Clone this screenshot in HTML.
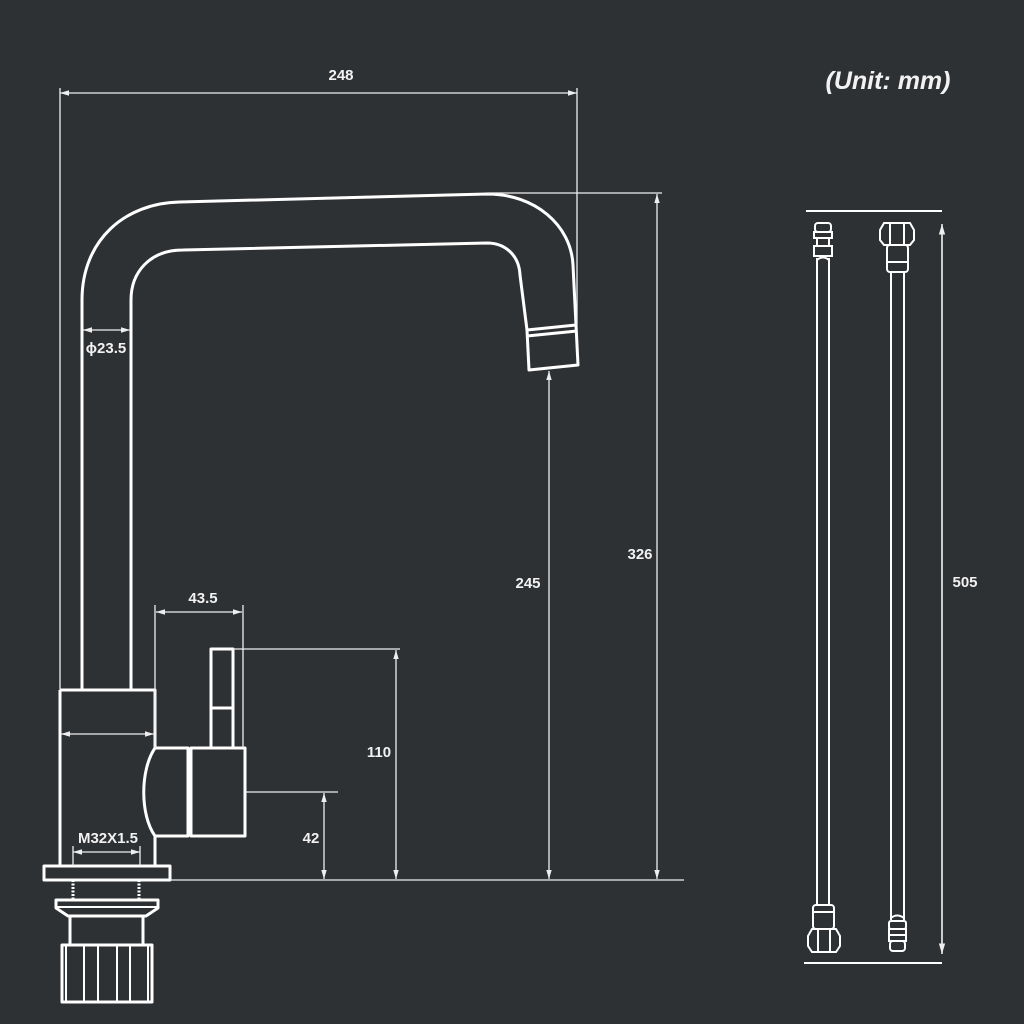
<!DOCTYPE html>
<html><head><meta charset="utf-8"><style>
html,body{margin:0;padding:0;background:#2e3134;}
svg{display:block}
text{font-family:"Liberation Sans",sans-serif;font-weight:bold;fill:#f2f2f2;font-size:15px}
</style></head><body>
<svg width="1024" height="1024" viewBox="0 0 1024 1024">
<defs>
<marker id="a" viewBox="0 0 10 10" refX="10" refY="5" markerWidth="7" markerHeight="7" orient="auto-start-reverse"><path d="M0,2 L10,5 L0,8 z" fill="#eee"/></marker>
</defs>
<rect width="1024" height="1024" fill="#2e3134"/>
<g fill="none" stroke="#fff" stroke-width="3" stroke-linejoin="round">
<path d="M82,690 L82,300 C82,240 125,203 180,202 L487,194 C535,194 571,225 573,265 L576,325"/>
<path d="M131,690 L131,300 C131,272 150,250 183,250 L487,243 C505,243 519,255 520,275 L527,330"/>
<path d="M527,330 L576,325 L578,365 L529,370 Z"/>
<path d="M527,336 L577,331"/>
<path d="M60,690 L155,690 L155,748 M60,690 L60,866 M155,835 L155,866"/>
<path d="M155,748 L188,748 L188,836 L155,836 C140,815 140,770 155,748"/>
<rect x="191" y="748" width="54" height="88"/>
<rect x="211" y="649" width="22" height="99"/>
<line x1="211" y1="708" x2="233" y2="708"/>
<rect x="44" y="866" width="126" height="14"/>
<path d="M56,900 L158,900 L158,908 L146,916 L68,916 L56,908 Z"/>
<line x1="57" y1="907" x2="157" y2="907" stroke-width="2"/>
<rect x="70" y="916" width="73" height="29"/>
<rect x="62" y="945" width="90" height="57"/>
<path d="M66,946V1001M84,946V1001M98,946V1001M117,946V1001M130,946V1001M148,946V1001" stroke-width="2"/>
<path d="M73,880V900M139,880V900" stroke-width="3" stroke-dasharray="2 1.5"/>
</g>
<g fill="none" stroke="#eee" stroke-width="1.3">
<line x1="60" y1="88" x2="60" y2="690"/>
<line x1="577" y1="88" x2="577" y2="325"/>
<line x1="60" y1="93" x2="577" y2="93" marker-start="url(#a)" marker-end="url(#a)"/>
<line x1="83" y1="330" x2="130" y2="330" marker-start="url(#a)" marker-end="url(#a)"/>
<line x1="487" y1="193" x2="662" y2="193"/>
<line x1="657" y1="194" x2="657" y2="879" marker-start="url(#a)" marker-end="url(#a)"/>
<line x1="549" y1="371" x2="549" y2="879" marker-start="url(#a)" marker-end="url(#a)"/>
<line x1="233" y1="649" x2="400" y2="649"/>
<line x1="396" y1="650" x2="396" y2="879" marker-start="url(#a)" marker-end="url(#a)"/>
<line x1="245" y1="792" x2="338" y2="792"/>
<line x1="324" y1="793" x2="324" y2="879" marker-start="url(#a)" marker-end="url(#a)"/>
<line x1="170" y1="880" x2="684" y2="880"/>
<line x1="155" y1="605" x2="155" y2="748"/>
<line x1="243" y1="605" x2="243" y2="748"/>
<line x1="156" y1="612" x2="242" y2="612" marker-start="url(#a)" marker-end="url(#a)"/>
<line x1="61" y1="734" x2="154" y2="734" marker-start="url(#a)" marker-end="url(#a)"/>
<line x1="73" y1="852" x2="140" y2="852" marker-start="url(#a)" marker-end="url(#a)"/>
<line x1="73" y1="846" x2="73" y2="866"/><line x1="140" y1="846" x2="140" y2="866"/>
</g>
<text x="341" y="80" text-anchor="middle">248</text>
<text x="106" y="353" text-anchor="middle">ϕ23.5</text>
<text x="640" y="559" text-anchor="middle">326</text>
<text x="528" y="588" text-anchor="middle">245</text>
<text x="379" y="757" text-anchor="middle">110</text>
<text x="311" y="843" text-anchor="middle">42</text>
<text x="203" y="603" text-anchor="middle">43.5</text>
<text x="108" y="843" text-anchor="middle">M32X1.5</text>
<text x="888" y="89" text-anchor="middle" style="font-size:25px;font-style:italic">(Unit: mm)</text>
<text x="965" y="587" text-anchor="middle">505</text>
<g fill="none" stroke="#fff" stroke-width="2">
<line x1="806" y1="211" x2="942" y2="211"/>
<line x1="804" y1="963" x2="942" y2="963"/>
<line x1="942" y1="224" x2="942" y2="954" stroke-width="1.5" marker-start="url(#a)" marker-end="url(#a)"/>
<path d="M817,258V905M829,258V905"/>
<path d="M817,260 Q823,255 829,260"/>
<rect x="815" y="223" width="16" height="9" rx="3"/>
<rect x="814" y="232" width="18" height="6"/>
<rect x="814" y="246" width="18" height="10"/>
<path d="M817,238V246M829,238V246"/>
<rect x="813" y="905" width="21" height="24" rx="3"/>
<line x1="813" y1="912" x2="834" y2="912"/>
<path d="M812,929 L836,929 L840,936 L840,946 L836,952 L812,952 L808,946 L808,936 Z"/>
<path d="M818,930V951M830,930V951"/>
<path d="M891,272V920M904,272V920"/>
<path d="M891,918 Q897,913 904,918"/>
<path d="M884,223 L910,223 L914,230 L914,240 L910,245 L884,245 L880,240 L880,230 Z"/>
<path d="M890,224V244M904,224V244"/>
<rect x="887" y="245" width="21" height="27" rx="3"/>
<line x1="887" y1="262" x2="908" y2="262"/>
<rect x="889" y="921" width="17" height="8" rx="2"/>
<rect x="889" y="929" width="17" height="6"/>
<rect x="889" y="935" width="17" height="6"/>
<rect x="890" y="941" width="15" height="10" rx="3"/>
</g>
</svg>
</body></html>
